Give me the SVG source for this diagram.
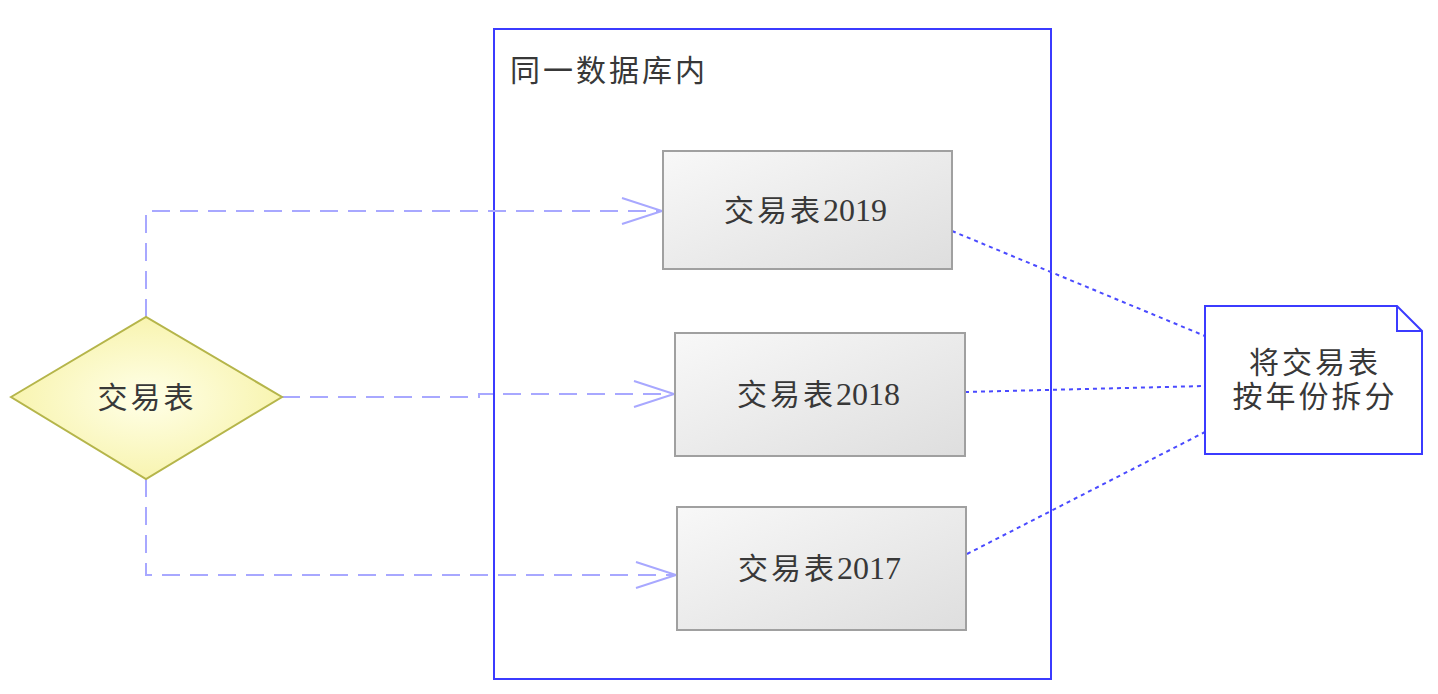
<svg xmlns="http://www.w3.org/2000/svg" width="1438" height="694" viewBox="0 0 1438 694">
<defs>
<style>
text{font-family:"Liberation Serif","Noto Sans CJK SC",serif;font-size:30px;letter-spacing:3px;fill:#383838;}
.num{letter-spacing:0;font-size:32px;}
.box{fill:url(#gbox);stroke:#a0a0a0;stroke-width:2;}
.dash{fill:none;stroke:#a8a8ff;stroke-width:2;stroke-dasharray:18 10;}
.dot{fill:none;stroke:#4a4aff;stroke-width:2;stroke-dasharray:4 4;}
.ah{fill:none;stroke:#a8a8ff;stroke-width:2;}
</style>
<linearGradient id="gbox" x1="0" y1="0" x2="1" y2="1">
<stop offset="0" stop-color="#f8f8f8"/><stop offset="1" stop-color="#dedede"/>
</linearGradient>
<radialGradient id="gdia" cx="0.5" cy="0.5" r="0.5">
<stop offset="0" stop-color="#ffffe8"/><stop offset="1" stop-color="#f8f4b0"/>
</radialGradient>
</defs>
<rect width="1438" height="694" fill="#fff"/>
<g id="container">
<rect x="494" y="29" width="557" height="650" fill="none" stroke="#3b3bff" stroke-width="2"/>
<text x="510" y="81">同一数据库内</text>
</g>
<g id="connectors">
<path class="dash" d="M146 317 V211 H661"/>
<path class="ah" d="M622 198 L662 211 L622 224"/>
<path class="dash" d="M282 397 H479 V394 H673"/>
<path class="ah" d="M634 381 L674 394 L634 407"/>
<path class="dash" d="M146 479 V575 H675"/>
<path class="ah" d="M636 562 L676 575 L636 588"/>
<path class="dot" d="M952 231 L1205 336"/>
<path class="dot" d="M965 392 L1205 386"/>
<path class="dot" d="M967 554 L1205 432"/>
</g>
<g id="diamond">
<polygon points="11,397 146,317 282,397 146,479" fill="url(#gdia)" stroke="#b5b54a" stroke-width="2"/>
<text x="147" y="408" text-anchor="middle">交易表</text>
</g>
<g id="t2019">
<rect class="box" x="663" y="151" width="289" height="118"/>
<text x="724" y="221">交易表<tspan class="num">2019</tspan></text>
</g>
<g id="t2018">
<rect class="box" x="675" y="333" width="290" height="123"/>
<text x="737" y="405">交易表<tspan class="num">2018</tspan></text>
</g>
<g id="t2017">
<rect class="box" x="677" y="507" width="289" height="123"/>
<text x="738" y="579">交易表<tspan class="num">2017</tspan></text>
</g>
<g id="note">
<path d="M1205 306 H1397 L1422 331 V454 H1205 Z" fill="#fff" stroke="#3b3bff" stroke-width="2"/>
<path d="M1397 306 V331 H1422" fill="none" stroke="#3b3bff" stroke-width="2"/>
<text x="1315" y="373" text-anchor="middle">将交易表</text>
<text x="1315" y="407" text-anchor="middle">按年份拆分</text>
</g>
</svg>
